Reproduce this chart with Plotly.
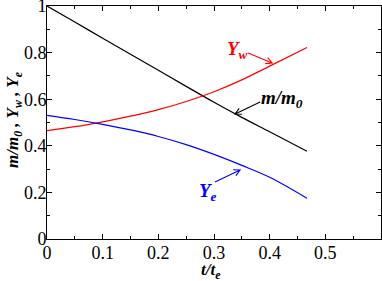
import plotly.graph_objects as go

t = [0.0, 0.05, 0.1, 0.15, 0.2, 0.25, 0.3, 0.35, 0.4, 0.467]
m_m0 = [1.0, 0.931, 0.862, 0.793, 0.724, 0.655, 0.587, 0.522, 0.46, 0.377]
Y_w = [0.465, 0.482, 0.503, 0.527, 0.555, 0.59, 0.632, 0.683, 0.742, 0.822]
Y_e = [0.531, 0.513, 0.492, 0.468, 0.44, 0.405, 0.363, 0.316, 0.265, 0.175]

x_ticks = [0, 0.1, 0.2, 0.3, 0.4, 0.5]
y_ticks = [0, 0.2, 0.4, 0.6, 0.8, 1]

FONT = "Liberation Serif"

fig = go.Figure()
fig.add_trace(go.Scatter(x=t, y=m_m0, mode="lines", line=dict(color="black", width=1.2, shape="spline")))
fig.add_trace(go.Scatter(x=t, y=Y_w, mode="lines", line=dict(color="red", width=1.2, shape="spline")))
fig.add_trace(go.Scatter(x=t, y=Y_e, mode="lines", line=dict(color="blue", width=1.2, shape="spline")))

SX = 555.0
SY = 233.0

def arrow(x0, y0, x1, y1, color):
    import math
    dx = (x1 - x0) * SX
    dy = (y1 - y0) * SY
    L = math.hypot(dx, dy)
    ux, uy = dx / L, dy / L
    h = 7.0
    ang = math.radians(28)
    pts = []
    for s in (1, -1):
        c, sn = math.cos(s * ang), math.sin(s * ang)
        rx = -(ux * c - uy * sn) * h
        ry = -(ux * sn + uy * c) * h
        pts.append((x1 + rx / SX, y1 + ry / SY))
    path = f"M {x0},{y0} L {x1},{y1} M {pts[0][0]},{pts[0][1]} L {x1},{y1} L {pts[1][0]},{pts[1][1]}"
    fig.add_shape(type="path", path=path, xref="x", yref="y", line=dict(color=color, width=1.1))

def px2d(px, py):
    return ((px - 47.5) / SX, (239 - py) / SY)

a = px2d(248, 53) + px2d(272, 63)
arrow(*a, "red")
a = px2d(260, 102) + px2d(235, 114)
arrow(*a, "black")
a = px2d(215, 182) + px2d(240, 170)
arrow(*a, "blue")

def label(px, py, text, color):
    x, y = px2d(px, py)
    fig.add_annotation(x=x, y=y, xref="x", yref="y", text=text, showarrow=False,
                       xanchor="left", yanchor="middle",
                       font=dict(family=FONT, size=19, color=color))

label(225, 50, "<b><i>Y</i></b><sub><b><i>w</i></b></sub>", "red")
label(259, 99, "<b><i>m/m</i></b><sub><b><i>0</i></b></sub>", "black")
label(197, 192, "<b><i>Y</i></b><sub><b><i>e</i></b></sub>", "blue")

W, H = 382, 281
L, R, T, B = 47, 1, 6, 42
pw = W - L - R
ph = H - T - B

fig.add_annotation(x=(211 - L) / pw, y=(H - B - 271) / ph, xref="paper", yref="paper",
                   text="<b><i>t/t</i></b><sub><b><i>e</i></b></sub>", showarrow=False,
                   xanchor="center", yanchor="middle",
                   font=dict(family=FONT, size=17, color="black"))
fig.add_annotation(x=(14 - L) / pw, y=(H - B - 120) / ph, xref="paper", yref="paper",
                   text="<b><i>m/m</i></b><sub><b><i>0</i></b></sub><b><i> , Y</i></b><sub><b><i>w</i></b></sub><b><i> , Y</i></b><sub><b><i>e</i></b></sub>",
                   showarrow=False, textangle=-90, xanchor="center", yanchor="middle",
                   font=dict(family=FONT, size=17, color="black"))

axis_common = dict(
    showgrid=False, zeroline=False, showline=True, linecolor="black", linewidth=1,
    mirror="ticks", ticks="inside", ticklen=5, tickcolor="black", tickwidth=1,
    tickfont=dict(family=FONT, size=18, color="black"), automargin=False,
    ticklabeloverflow="allow",
)

fig.update_xaxes(range=[0, 0.6], tickvals=x_ticks, ticktext=[str(v) for v in x_ticks],
                 minor=dict(dtick=0.05, ticks="inside", ticklen=3, tickcolor="black"),
                 ticklabelstandoff=-3, **axis_common)
fig.update_yaxes(range=[0, 1], tickvals=y_ticks, ticktext=[str(v) for v in y_ticks],
                 minor=dict(dtick=0.1, ticks="inside", ticklen=3, tickcolor="black"),
                 ticklabelstandoff=-4, **axis_common)

fig.update_layout(
    width=W, height=H, showlegend=False,
    margin=dict(l=L, r=R, t=T, b=B, autoexpand=False),
    plot_bgcolor="white", paper_bgcolor="white",
)

fig.write_html("out.html", config={"displayModeBar": False},
               post_script="document.body.style.margin='0';document.body.style.padding='0';")
